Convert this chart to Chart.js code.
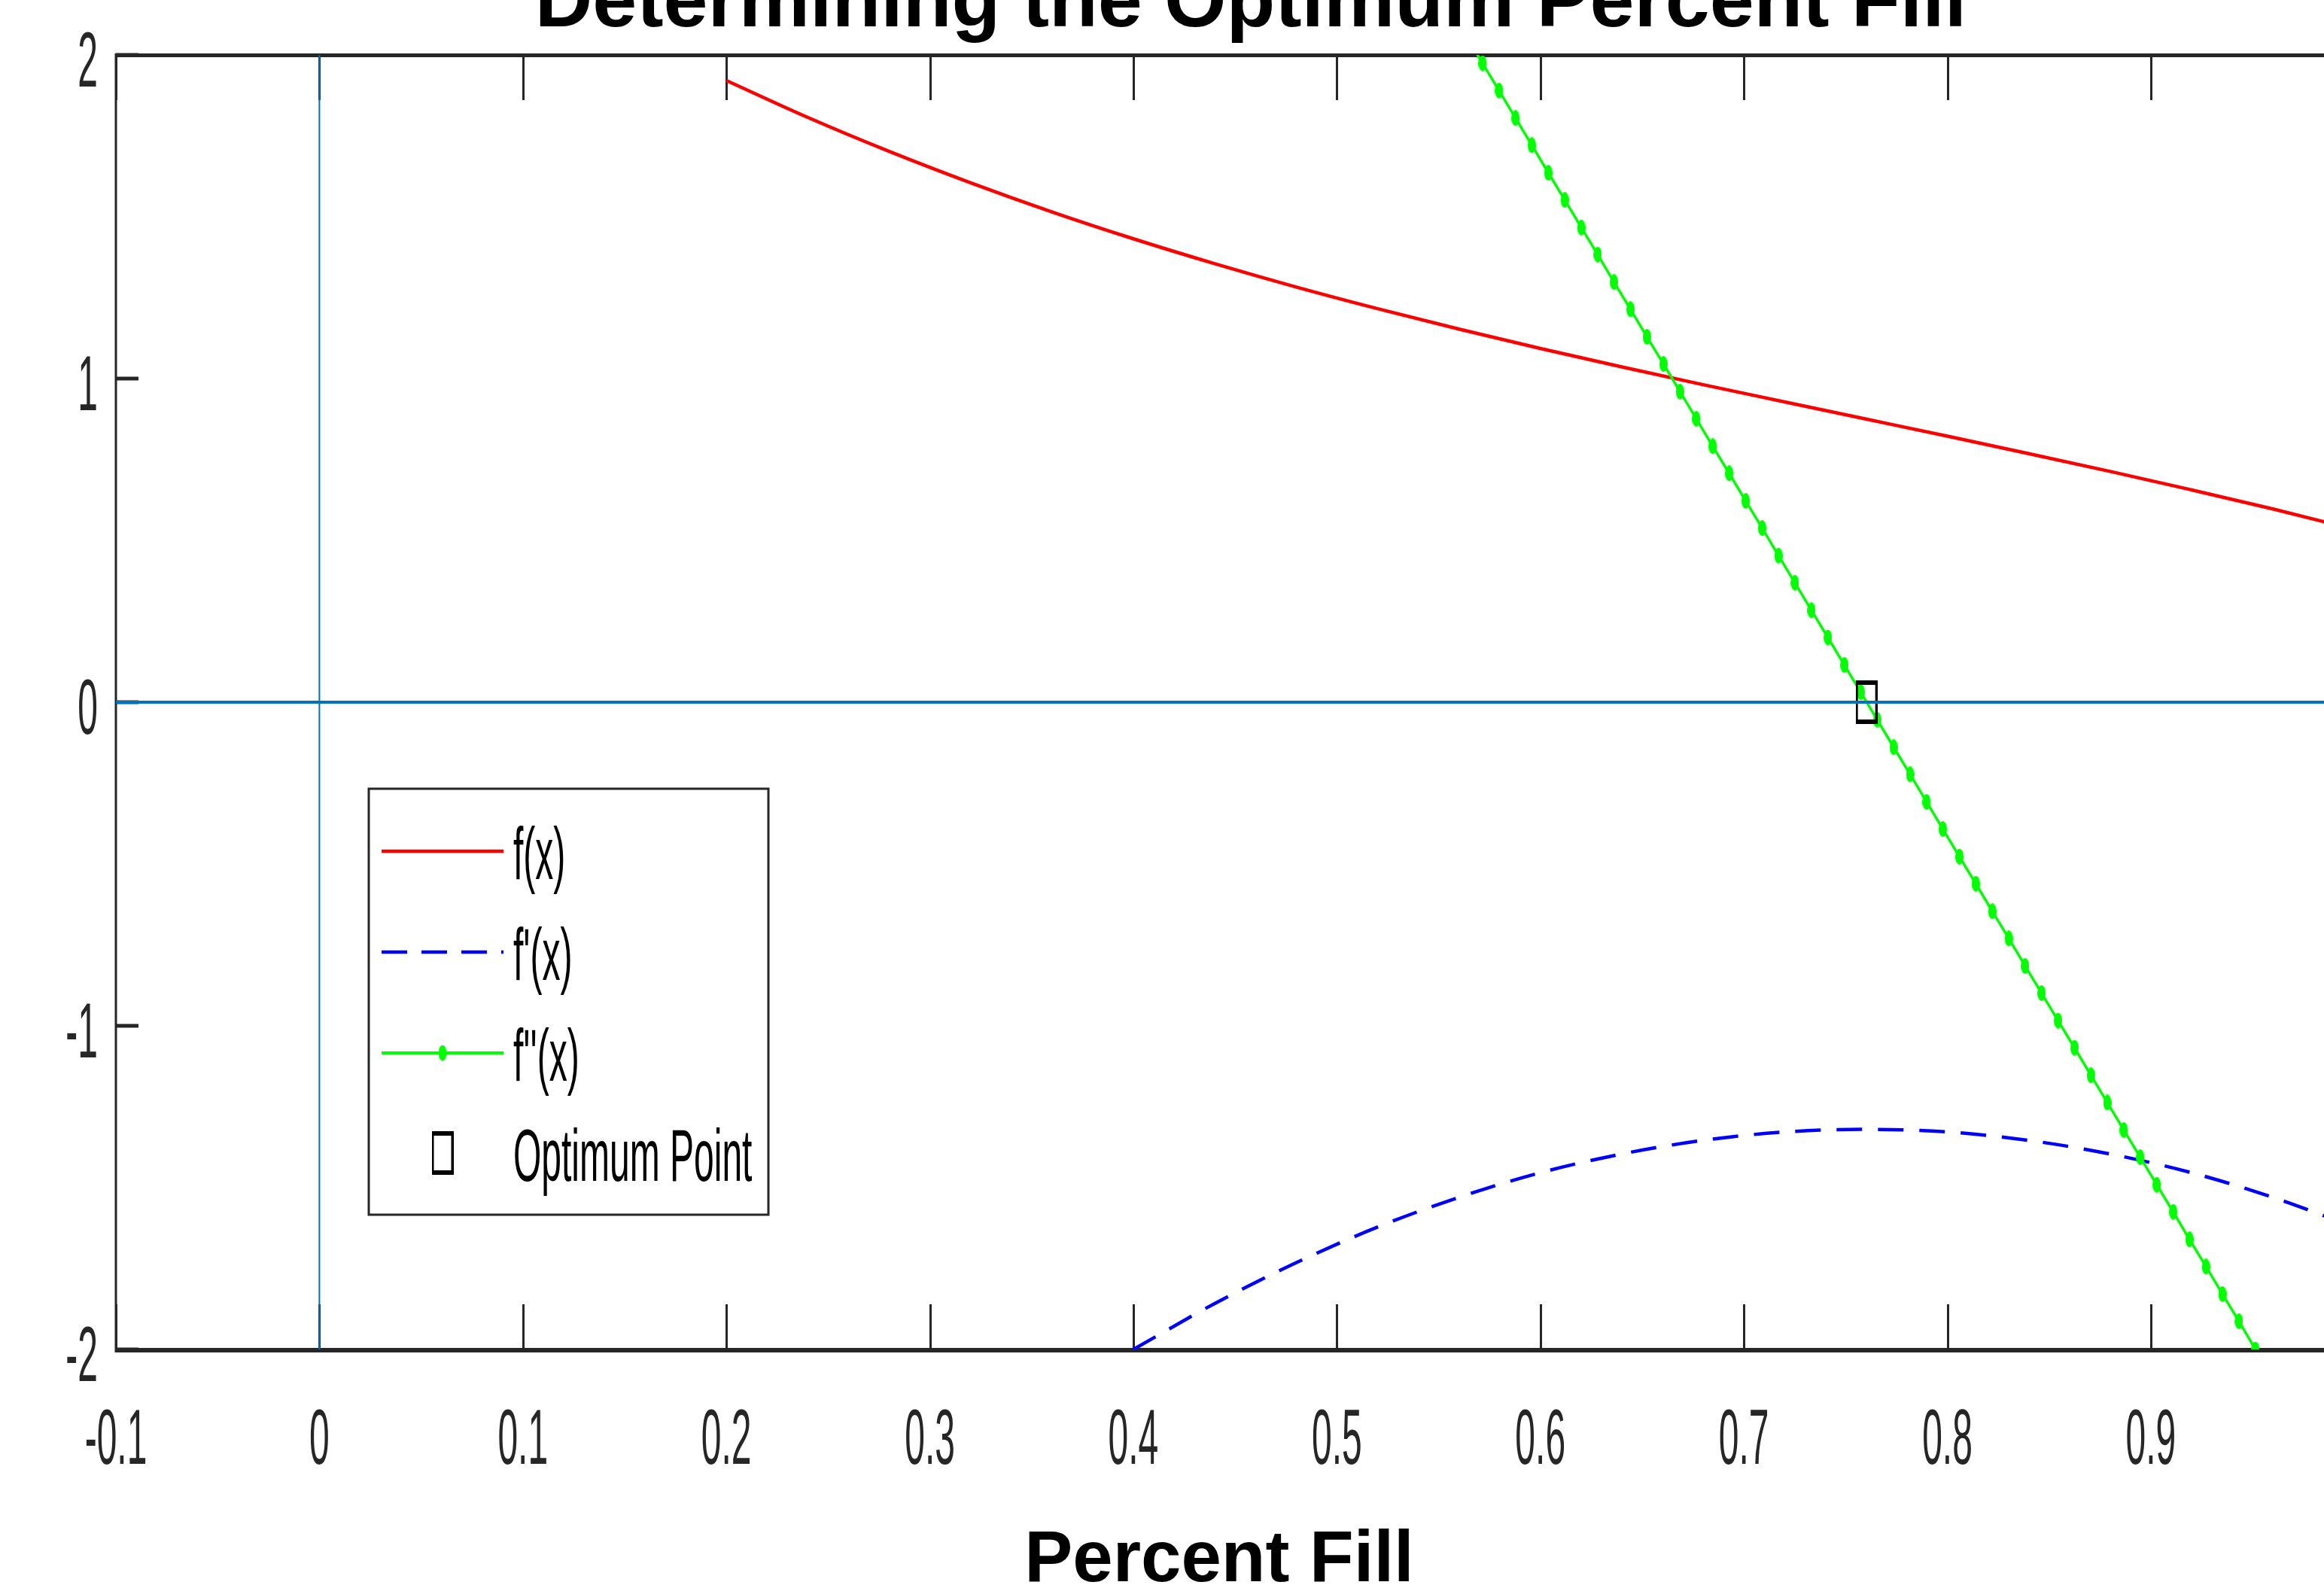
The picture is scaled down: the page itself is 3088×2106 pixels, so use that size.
<!DOCTYPE html>
<html>
<head>
<meta charset="utf-8">
<script src="https://cdn.jsdelivr.net/npm/chart.js@4.4.1/dist/chart.umd.min.js"></script>
<style>
  html, body { margin: 0; padding: 0; background: #ffffff; overflow: hidden; }
  canvas { display: block; }
</style>
</head>
<body>
<canvas id="chart" width="3088" height="2106"></canvas>
<script>
//f(x)
const fX = [0.20, 0.24, 0.28, 0.32, 0.36, 0.40, 0.44, 0.48, 0.52, 0.56, 0.60, 0.64, 0.68, 0.72, 0.76, 0.80, 0.84, 0.88, 0.92, 0.96, 1.00];
const fY = [1.921, 1.807, 1.702, 1.605, 1.515, 1.432, 1.355, 1.283, 1.216, 1.153, 1.093, 1.036, 0.981, 0.928, 0.875, 0.822, 0.768, 0.713, 0.656, 0.597, 0.534];

//f'(x), blue dashed curve
const d1X = [0.40, 0.44, 0.48, 0.52, 0.56, 0.60, 0.64, 0.68, 0.72, 0.76, 0.80, 0.84, 0.88, 0.92, 0.96, 1.00];
const d1Y = [-2.000, -1.858, -1.732, -1.622, -1.530, -1.454, -1.396, -1.354, -1.328, -1.320, -1.328, -1.354, -1.396, -1.454, -1.530, -1.622];

//f''(x), green line with a marker on every sample
const d2X = [0.5635, 0.5716, 0.5797, 0.5878, 0.5958, 0.6039, 0.6120, 0.6201, 0.6282, 0.6362,
  0.6443, 0.6524, 0.6605, 0.6686, 0.6766, 0.6847, 0.6928, 0.7009, 0.7090, 0.7170,
  0.7251, 0.7332, 0.7413, 0.7494, 0.7574, 0.7655, 0.7736, 0.7817, 0.7898, 0.7978,
  0.8059, 0.8140, 0.8221, 0.8302, 0.8382, 0.8463, 0.8544, 0.8625, 0.8706, 0.8786,
  0.8867, 0.8948, 0.9029, 0.9110, 0.9190, 0.9271, 0.9352, 0.9433, 0.9514, 0.9594];
const d2Y = [2.059, 1.974, 1.890, 1.805, 1.721, 1.636, 1.552, 1.467, 1.383, 1.298,
  1.214, 1.129, 1.045, 0.960, 0.876, 0.791, 0.707, 0.622, 0.538, 0.453,
  0.369, 0.284, 0.200, 0.115, 0.031, -0.054, -0.139, -0.223, -0.308, -0.392,
  -0.477, -0.561, -0.646, -0.730, -0.815, -0.899, -0.984, -1.068, -1.153, -1.237,
  -1.322, -1.406, -1.491, -1.575, -1.660, -1.744, -1.829, -1.913, -2.000, -2.082];

//optimum point
const optX = [0.7603];
const optY = [0];

//axis ticks
const xTicks = [-0.1, 0, 0.1, 0.2, 0.3, 0.4, 0.5, 0.6, 0.7, 0.8, 0.9];
const xTickLabels = ["-0.1", "0", "0.1", "0.2", "0.3", "0.4", "0.5", "0.6", "0.7", "0.8", "0.9"];
const yTicks = [-2, -1, 0, 1, 2];
const yTickLabels = ["-2", "-1", "0", "1", "2"];

const legendLabels = ["f(x)", "f'(x)", "f''(x)", "Optimum Point"];
const titleText = "Determining the Optimum Percent Fill";
const xLabelText = "Percent Fill";

const toPoints = (xs, ys) => xs.map((x, i) => ({ x: x, y: ys[i] }));

const AXIS_COLOR = "#262626";
const ZERO_COLOR = "#0072BD";
const FONT = "'Liberation Sans', Arial, Helvetica, sans-serif";

//the figure is stretched vertically, so markers are tall ellipses
const greenDot = document.createElement("canvas");
greenDot.width = 11;
greenDot.height = 21;
(() => {
  const c = greenDot.getContext("2d");
  c.fillStyle = "#00ff00";
  c.beginPath();
  c.ellipse(5.5, 10.5, 5.5, 10.5, 0, 0, Math.PI * 2);
  c.fill();
})();

const optBox = document.createElement("canvas");
optBox.width = 29;
optBox.height = 58;
(() => {
  const c = optBox.getContext("2d");
  c.fillStyle = "#000000";
  c.fillRect(0, 0, 29, 6);
  c.fillRect(0, 52, 29, 6);
  c.fillRect(0, 0, 3, 58);
  c.fillRect(26, 0, 3, 58);
})();

//text drawn tall and narrow like the reference
function tallText(ctx, text, x, y, sy) {
  ctx.save();
  ctx.translate(x, y);
  ctx.scale(1, sy);
  ctx.fillText(text, 0, 0);
  ctx.restore();
}

//box, inward ticks and tick labels
const axesPlugin = {
  id: "axesBox",
  beforeDatasetsDraw(chart) {
    const ctx = chart.ctx;
    const a = chart.chartArea;
    const xs = chart.scales.x;
    const ys = chart.scales.y;
    ctx.save();
    ctx.strokeStyle = AXIS_COLOR;
    ctx.lineCap = "butt";

    //ticks on bottom and top
    ctx.lineWidth = 3;
    xTicks.forEach((t) => {
      const px = Math.round(xs.getPixelForValue(t)) + 0.5;
      ctx.beginPath();
      ctx.moveTo(px, a.bottom);
      ctx.lineTo(px, a.bottom - 60);
      ctx.moveTo(px, a.top);
      ctx.lineTo(px, a.top + 60);
      ctx.stroke();
    });
    //ticks on left
    ctx.lineWidth = 5;
    yTicks.forEach((t) => {
      const py = ys.getPixelForValue(t);
      ctx.beginPath();
      ctx.moveTo(a.left, py);
      ctx.lineTo(a.left + 30, py);
      ctx.stroke();
    });

    //box lines
    ctx.lineWidth = 5;
    ctx.beginPath();
    ctx.moveTo(a.left - 1, a.top + 0.5);
    ctx.lineTo(a.right, a.top + 0.5);
    ctx.stroke();
    ctx.lineWidth = 6;
    ctx.beginPath();
    ctx.moveTo(a.left - 1, a.bottom + 1);
    ctx.lineTo(a.right, a.bottom + 1);
    ctx.stroke();
    ctx.lineWidth = 3;
    ctx.beginPath();
    ctx.moveTo(a.left, a.top - 2);
    ctx.lineTo(a.left, a.bottom + 4);
    ctx.stroke();

    //tick labels
    ctx.fillStyle = AXIS_COLOR;
    ctx.font = "48px " + FONT;
    ctx.textBaseline = "alphabetic";
    ctx.textAlign = "center";
    xTicks.forEach((t, i) => {
      tallText(ctx, xTickLabels[i], xs.getPixelForValue(t), 1945, 2.15);
    });
    ctx.textAlign = "right";
    yTicks.forEach((t, i) => {
      tallText(ctx, yTickLabels[i], 130, ys.getPixelForValue(t) + 42, 2.15);
    });
    ctx.restore();
  },
  afterDraw(chart) {
    const ctx = chart.ctx;
    ctx.save();
    //title and x label
    ctx.fillStyle = "#000000";
    ctx.textAlign = "center";
    ctx.textBaseline = "alphabetic";
    ctx.font = "bold 106px " + FONT;
    ctx.fillText(titleText, 1662, 35);
    ctx.font = "bold 96px " + FONT;
    ctx.fillText(xLabelText, 1620, 2101);

    //legend box
    const bx = 490, by = 1048, bw = 531, bh = 566;
    ctx.fillStyle = "#ffffff";
    ctx.fillRect(bx, by, bw, bh);
    ctx.strokeStyle = AXIS_COLOR;
    ctx.lineWidth = 3;
    ctx.strokeRect(bx, by, bw, bh);

    const rows = [1131, 1265, 1399, 1532];
    const lx0 = 507, lx1 = 669, mx = 588;
    ctx.lineWidth = 4.5;
    ctx.strokeStyle = "#ff0000";
    ctx.beginPath();
    ctx.moveTo(lx0, rows[0]);
    ctx.lineTo(lx1, rows[0]);
    ctx.stroke();

    ctx.strokeStyle = "#0000ff";
    ctx.setLineDash([34, 19]);
    ctx.beginPath();
    ctx.moveTo(lx0, rows[1]);
    ctx.lineTo(lx1, rows[1]);
    ctx.stroke();
    ctx.setLineDash([]);

    ctx.strokeStyle = "#00ff00";
    ctx.lineWidth = 4;
    ctx.beginPath();
    ctx.moveTo(lx0, rows[2]);
    ctx.lineTo(lx1, rows[2]);
    ctx.stroke();
    ctx.drawImage(greenDot, mx - greenDot.width / 2, rows[2] - greenDot.height / 2);
    ctx.drawImage(optBox, mx - optBox.width / 2, rows[3] - optBox.height / 2);

    ctx.fillStyle = "#000000";
    ctx.textAlign = "left";
    ctx.font = "48px " + FONT;
    legendLabels.forEach((txt, i) => {
      tallText(ctx, txt, 682, rows[i] + 37, 2.03);
    });
    ctx.restore();
  },
};

const ctx = document.getElementById("chart");

let myChart = new Chart(ctx, {
  type: "line",
  plugins: [axesPlugin],
  data: {
    datasets: [
      {
        //zero lines drawn on top of everything
        label: "y0",
        data: [{ x: -0.1, y: 0 }, { x: 1.0, y: 0 }],
        borderColor: ZERO_COLOR,
        borderWidth: 4,
        pointRadius: 0,
        clip: 0,
        order: 0,
      },
      {
        label: "x0",
        data: [{ x: 0, y: -2 }, { x: 0, y: 2 }],
        borderColor: ZERO_COLOR,
        borderWidth: 2,
        pointRadius: 0,
        clip: 0,
        order: 0,
      },
      {
        label: legendLabels[3],
        data: toPoints(optX, optY),
        showLine: false,
        pointStyle: optBox,
        pointRadius: 14,
        clip: 0,
        order: 1,
      },
      {
        label: legendLabels[2],
        data: toPoints(d2X, d2Y),
        borderColor: "#00ff00",
        borderWidth: 3.5,
        pointStyle: greenDot,
        pointRadius: 5,
        tension: 0,
        clip: 0,
        order: 2,
      },
      {
        label: legendLabels[1],
        data: toPoints(d1X, d1Y),
        borderColor: "#0000ff",
        borderWidth: 4.5,
        borderDash: [34, 21],
        pointRadius: 0,
        cubicInterpolationMode: "monotone",
        clip: 0,
        order: 3,
      },
      {
        label: legendLabels[0],
        data: toPoints(fX, fY),
        borderColor: "#ff0000",
        borderWidth: 4.5,
        pointRadius: 0,
        cubicInterpolationMode: "monotone",
        clip: 0,
        order: 4,
      },
    ],
  },
  options: {
    responsive: false,
    devicePixelRatio: 1,
    animation: false,
    layout: { autoPadding: false, padding: { left: 154, right: 0, top: 73, bottom: 313 } },
    plugins: {
      legend: { display: false },
      tooltip: { enabled: false },
      title: { display: false },
    },
    scales: {
      x: { type: "linear", display: false, min: -0.1, max: 0.9851 },
      y: { type: "linear", display: false, min: -2, max: 2 },
    },
  },
});
</script>
</body>
</html>
